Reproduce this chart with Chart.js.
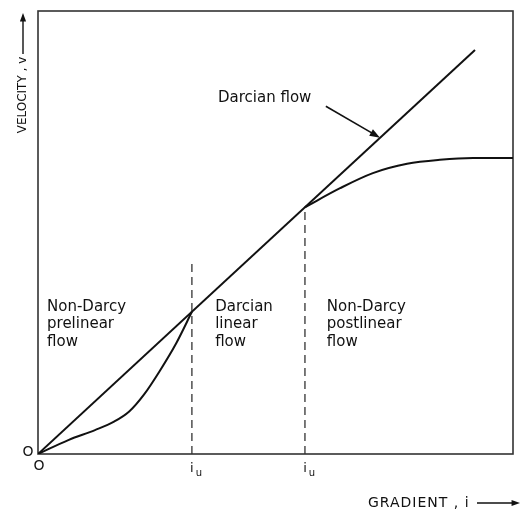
<!DOCTYPE html>
<html>
<head>
    <title>Velocity vs gradient</title>
    <script src="https://cdn.jsdelivr.net/npm/chart.js"></script>
    <style>
        body { margin: 0; background: #fff; }
        canvas { display: block; }
    </style>
</head>
<body>
    <canvas id="flowChart" width="522" height="510"></canvas>
    <script>
        // Darcy line (straight), in 0-100 units
        const lineGradient = [0, 92];
        const lineVelocity = [0, 91.2];

        // actual flow: prelinear part up to the first limit, postlinear part after the second;
        // in between it runs along the Darcy line
        const preGradient = [0, 6.5, 12, 16, 19.2, 22.3, 25.6, 29.1, 32.4];
        const preVelocity = [0, 3.2, 5.4, 7.3, 9.6, 13.4, 18.7, 25.0, 32.1];
        const postGradient = [56.2, 63.6, 70.5, 77.7, 84.6, 91.6, 100];
        const postVelocity = [55.7, 60.0, 63.4, 65.5, 66.4, 66.8, 66.8];

        // dashed limits of the linear zone
        const limitGradient = [32.4, 56.2];
        const limitTop = [43.3, 55.7];
        const limitLabels = ['u', 'u'];

        const zoneLabels = [
            ['Non-Darcy', 'prelinear', 'flow'],
            ['Darcian', 'linear', 'flow'],
            ['Non-Darcy', 'postlinear', 'flow']
        ];
        const zoneX = [1.9, 37.3, 60.8];

        const pts = (xs, ys) => xs.map((x, i) => ({ x: x, y: ys[i] }));

        const solid = (xs, ys) => ({
            data: pts(xs, ys),
            borderColor: '#111',
            borderWidth: 2,
            pointRadius: 0,
            showLine: true,
            cubicInterpolationMode: 'monotone'
        });

        const datasets = [
            solid(lineGradient, lineVelocity),
            solid(preGradient, preVelocity),
            solid(postGradient, postVelocity)
        ];
        limitGradient.forEach((g, i) => {
            datasets.push({
                data: [{ x: g, y: 0 }, { x: g, y: limitTop[i] }],
                borderColor: '#333',
                borderWidth: 1.3,
                borderDash: [8, 5],
                pointRadius: 0,
                showLine: true
            });
        });

        function arrow(ctx, x1, y1, x2, y2, head) {
            const a = Math.atan2(y2 - y1, x2 - x1);
            ctx.beginPath();
            ctx.moveTo(x1, y1);
            ctx.lineTo(x2 - Math.cos(a) * head * 0.6, y2 - Math.sin(a) * head * 0.6);
            ctx.stroke();
            ctx.beginPath();
            ctx.moveTo(x2, y2);
            ctx.lineTo(x2 - head * Math.cos(a - 0.35), y2 - head * Math.sin(a - 0.35));
            ctx.lineTo(x2 - head * Math.cos(a + 0.35), y2 - head * Math.sin(a + 0.35));
            ctx.closePath();
            ctx.fill();
        }

        const annotations = {
            id: 'annotations',
            beforeDatasetsDraw(chart) {
                const { ctx, chartArea: a } = chart;
                ctx.save();
                ctx.strokeStyle = '#333';
                ctx.lineWidth = 1.6;
                ctx.strokeRect(a.left, a.top, a.right - a.left, a.bottom - a.top);
                ctx.restore();
            },
            afterDraw(chart) {
                const { ctx, chartArea: a } = chart;
                const xs = chart.scales.x, ys = chart.scales.y;
                ctx.save();
                ctx.fillStyle = '#111';
                ctx.strokeStyle = '#111';
                ctx.textBaseline = 'middle';
                ctx.textAlign = 'left';

                // zone names
                ctx.font = '15px "DejaVu Sans"';
                const rows = [33.2, 29.3, 25.3];
                zoneLabels.forEach((lines, i) => {
                    lines.forEach((t, j) => {
                        ctx.fillText(t, xs.getPixelForValue(zoneX[i]), ys.getPixelForValue(rows[j]));
                    });
                });

                // Darcian flow label with arrow to the line
                ctx.fillText('Darcian flow', xs.getPixelForValue(37.9), ys.getPixelForValue(80.3));
                ctx.lineWidth = 1.6;
                arrow(ctx, xs.getPixelForValue(60.6), ys.getPixelForValue(78.5),
                      xs.getPixelForValue(72), ys.getPixelForValue(71.4), 11);

                // origin marks
                ctx.font = '14px "DejaVu Sans"';
                ctx.textAlign = 'center';
                ctx.fillText('O', a.left - 10, a.bottom - 2);
                ctx.fillText('O', a.left + 1, a.bottom + 12);

                // i_u labels under the dashed limits
                limitGradient.forEach((g, i) => {
                    const px = xs.getPixelForValue(g);
                    ctx.font = '13px "DejaVu Sans"';
                    ctx.fillText('i', px, a.bottom + 15);
                    ctx.font = '10px "DejaVu Sans"';
                    ctx.fillText(limitLabels[i], px + 7, a.bottom + 19);
                });

                // axis titles
                ctx.font = '12px "DejaVu Sans"';
                ctx.save();
                ctx.translate(23, 95);
                ctx.rotate(-Math.PI / 2);
                ctx.fillText('VELOCITY , v', 0, 0);
                ctx.restore();
                ctx.lineWidth = 1.4;
                arrow(ctx, 23, 54, 23, 13, 9);

                ctx.font = '14px "DejaVu Sans"';
                ctx.textAlign = 'left';
                ctx.letterSpacing = '1px';
                ctx.fillText('GRADIENT , i', 368, 503);
                ctx.letterSpacing = '0px';
                arrow(ctx, 477, 503, 520, 503, 9);
                ctx.restore();
            }
        };

        new Chart(document.getElementById('flowChart').getContext('2d'), {
            type: 'scatter',
            data: { datasets: datasets },
            options: {
                responsive: false,
                animation: false,
                layout: { padding: { left: 38, right: 9, top: 11, bottom: 56 } },
                plugins: { legend: { display: false }, tooltip: { enabled: false } },
                scales: {
                    x: { type: 'linear', min: 0, max: 100, display: false },
                    y: { type: 'linear', min: 0, max: 100, display: false }
                }
            },
            plugins: [annotations]
        });
    </script>
</body>
</html>
